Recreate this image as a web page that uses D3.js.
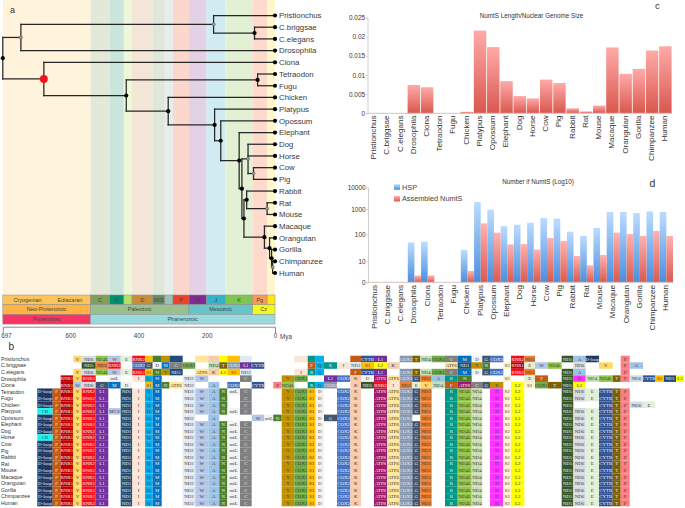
<!DOCTYPE html>
<html><head><meta charset="utf-8">
<script src="https://cdn.jsdelivr.net/npm/d3@7/dist/d3.min.js"></script>
<style>html,body{margin:0;padding:0;background:#fff}svg{display:block}text{font-family:"Liberation Sans",Arial,sans-serif}</style>
</head><body><svg id="chart" width="685" height="508"></svg>
<script>
// ---------- data ----------
const species = ["Pristionchus","C.briggsae","C.elegans","Drosophila","Ciona","Tetraodon","Fugu","Chicken","Platypus","Opossum","Elephant","Dog","Horse","Cow","Pig","Rabbit","Rat","Mouse","Macaque","Orangutan","Gorilla","Chimpanzee","Human"];
const numtLength = [0,0,0,0.0074,0.0068,0,0,0.0004,0.0216,0.0173,0.0084,0.0045,0.0039,0.0088,0.0079,0.0013,0.0005,0.0020,0.0172,0.0103,0.0116,0.0164,0.0175];
const hsp = [0,0,0,50,53,0,0,26,2100,940,212,240,288,440,415,127,87,178,760,760,695,810,760];
const assembled = [0,0,0,2.1,2.1,0,0,3.4,272,116,42,43,27,73,56,15.4,6.3,16.8,116,103,87,136,87];
const lengthTicks = [0,0.005,0.01,0.015,0.02,0.025];
const countTicks = [1,10,100,1000,10000];
const countTickLabels = ["0","10","100","1000","10000"];
const timeTicks = [697,600,400,200,0];
// tree: [node age in Mya, ...children]
const treeNested = [697,[671,[180,"Pristionchus",[60,"C.briggsae","C.elegans"]],"Drosophila"],[638,"Ciona",[436,[51,"Tetraodon","Fugu"],[313,"Chicken",[177,"Platypus",[159,"Opossum",[105,"Elephant",[97,[79,"Dog","Horse",[63,"Cow","Pig"]],[91,[83,"Rabbit",[23,"Rat","Mouse"]],[31,"Macaque",[16,"Orangutan",[10,"Gorilla",[7,"Chimpanzee","Human"]]]]]]]]]]]]];
const hollowNodes = [671,180,79,63,23,7];
const redNode = 638;
// geologic scale: [name, older bound, younger bound]
const periods = [["",697,541],["C",541,485],["O",485,443],["",443,419],["D",419,359],["MIS",359,323],["",323,299],["P",299,252],["Tr",252,201],["J",201,145],["K",145,66],["Pg",66,23],["",23,0]];
const eras = [["Neo-Proterozoic",697,541],["Paleozoic",541,252],["Mesozoic",252,66],["Cz",66,0]];
const eons = [["Proterozoic",697,541],["Phanerozoic",541,0]];
// gene order: one token per alignment column, "." = absent, "~X" = gene X, name not printed
const vert = "D-loop F RNR1 V RNR2 L1 . ND1 I Q M . . ND2 W A N mtL C . . . Y COX1 S1 D . COX2 K . ATP8 ATP6 COX3 G ND3 . R ND4L ND4 . H S2 L2 . . . ND5 ND6 E CYTB T P";
const noMtl = vert.replace("mtL ",". ");
const geneOrder = [
 ". . . V ND6 ND4L W E RNR2 ~S1 ~N ~Y ~ND1 . ~ATP6 ~K ~L2 ~S1 ~ND2 . . . . ~I ~R ~Q . . ~F CYTB L1 . COX3 T ND4 COX1 C M D G COX2 . RNR2 ND3 . . ND5 A D-loop . . P",
 ". . . . ND5 ND3 RNR2 . COX2 G D M C COX1 . ND4 T COX3 L1 CYTB . . . . F Q R I ND2 S1 L2 K . . . . ATP6 ND1 Y N . S2 RNR1 E W ND4L . ND6 . V . P A",
 ". . . V ND6 ND4L W E RNR2 S1 N Y ND1 . ATP6 K L2 S1 ND2 . . . . I R Q . . F CYTB L1 . COX3 T ND4 COX1 C M D G COX2 . RNR2 ND3 . . ND5 A . . . P",
 ". . RNR1 V RNR2 . mtL . I Q M . . ND2 W . . . C . . . Y COX1 . . L1 COX2 K D ATP8 ATP6 COX3 G ND3 A R N . . . S2 . E F . ND5 H ND4 ND4L T P ND6 CYTB S1 ND1 L2",
 ". . RNR1 W ND6 G M D . S1 M N ATP6 ND2 . A . COX2 . CYTB . P ND4L . R Q COX3 . K ND5 RNR2 I ND3 E V ND4 F ATP8 C G Y . L2 S2 COX1 T ND5 L2",
 vert, noMtl,
 noMtl.replace("ND6 E",". .") + " ND6 E",
 vert.replace("D-loop","CR").replace("L1 . ND1","L1 MCS ND1"),
 "D-loop F RNR1 V RNR2 L1 . ND1 I Q M . . ND2 . A . . . W mtL N Y COX1 S1 D G COX2 K . ATP8 ATP6 COX3 . ND3 . R ND4L ND4 . H S2 L2 . . . ND5 ND6 E CYTB T P",
 vert, vert, vert.replace("D-loop","CR"), vert, vert, vert, vert, vert, vert, vert, vert, vert, vert
];
const geneColor = {"D-loop":"#1f3864",CR:"#16f5f5",F:"#c55a11",RNR1:"#c00000",V:"#ffd966",RNR2:"#f70d1a",L1:"#7030a0",MCS:"#b4c7e7",ND1:"#1f4e79",I:"#fbe5d6",Q:"#00b0f0",M:"#0070c0",ND2:"#deebf7",W:"#b4c7e7",A:"#9dc3e6",N:"#4a7f2e",mtL:"#f2f2f2",C:"#7f7f7f",Y:"#bf9000",COX1:"#70ad47",S1:"#ffc000",D:"#f2f2f2",G:"#44546a",COX2:"#4472c4",K:"#f8cbad",ATP8:"#9e1b6a",ATP6:"#ffe699",COX3:"#8497b0",ND3:"#ed7d31",R:"#009688",ND4L:"#92c84a",ND4:"#c5e0b4",H:"#ff33ff",S2:"#fff2cc",L2:"#ffff00",ND5:"#375623",ND6:"#d6dce5",E:"#e2f0d9",CYTB:"#2f5597",T:"#7f6000",P:"#ff7c80"};

// ---------- layout ----------
const slotWidths = [15.4,8,12.6,8.4,14,12.6,12.4,11.6,12.7,7.7,9,7.8,13.2,12.6,13,11,8,12.7,11.7,12.6,9,8.4,12.6,13.4,8,8.3,13,13.3,10.7,13,13,12.7,12.6,8,11.4,13.3,12.7,14,10.6,7.7,13.3,7.7,13.3,10.7,13,13.7,11.6,12.4,13.3,13.7,8,9,13.3,12,9,12,8];
const slotEdges = [0, ...d3.cumsum(slotWidths)];
const slotX = d3.scaleLinear().domain([0, slotEdges[slotEdges.length-1]]).range([37.3, 37.3+slotEdges[slotEdges.length-1]]);
const svg = d3.select("#chart");
const FONT_SERIF = '"Liberation Serif","Times New Roman",serif';

// ---------- panel a ----------
const xT = d3.scaleLinear().domain([697,600,0]).range([2.8,70.3,275]);
const yT = d3.scalePoint().domain(species).range([15.5,273]);
const paleColors = ["#fff3dc","#e3e8d8","#c9e6dc","#eef7d8","#f3e6d6","#dfe6da","#e5eee8","#fbd7cc","#e3d1e6","#d0ecf2","#e2f1d4","#fddacb","#fff7cc"];
const stripColors = ["#fdc559","#7fa056","#009270","#b3e160","#cb8c37","#678f66","#99c2b5","#f04028","#812b92","#34b2c9","#7fc64e","#fd9a52","#ffe619"];
const eraColors = ["#feb342","#99c08d","#67c5ca","#f2f91d"];
const eonColors = ["#f73563","#9ad9dd"];
const gA = svg.append("g");
gA.selectAll("rect.bg").data(periods).join("rect").attr("class","bg")
  .attr("x",d=>xT(d[1])).attr("width",d=>xT(d[2])-xT(d[1])).attr("y",0).attr("height",295)
  .attr("fill",(d,i)=>paleColors[i]);

function strip(data, colors, y, h){
  gA.append("g").selectAll("rect").data(data).join("rect")
    .attr("x",d=>xT(d[1])).attr("width",d=>xT(d[2])-xT(d[1])).attr("y",y).attr("height",h)
    .attr("fill",(d,i)=>colors[i]).attr("stroke","#8c8c8c").attr("stroke-width",0.5);
  gA.append("g").selectAll("text").data(data).join("text")
    .attr("x",d=>(xT(d[1])+xT(d[2]))/2).attr("y",y+h/2+1.9).attr("text-anchor","middle")
    .attr("font-size",5.5).attr("fill","#444").text(d=>d[0]);
}
strip(periods, stripColors, 295, 9.7);
strip(eras, eraColors, 304.7, 9.7);
strip(eons, eonColors, 314.4, 9.7);
gA.append("g").selectAll("text").data([["Cryogenian",27.5],["Ediacaran",70]]).join("text")
  .attr("x",d=>d[1]).attr("y",301.8).attr("text-anchor","middle").attr("font-size",5.5).attr("fill","#444").text(d=>d[0]);

const axT = d3.axisBottom(xT).tickValues(timeTicks).tickSizeInner(0).tickSizeOuter(6.5).tickPadding(7).tickFormat(d=>d);
const gAx = gA.append("g").attr("transform","translate(0,326.7)").call(axT);
gAx.selectAll("path").attr("stroke","#8a8a8a").attr("fill","none");
gAx.selectAll("text").attr("font-size",6.3).attr("fill","#444").attr("font-family",'"Liberation Sans",sans-serif')
  .attr("text-anchor",d=>d===697?"start":"middle").attr("dx",d=>d===697?-2:0);
gA.append("text").attr("x",280).attr("y",339).attr("font-size",6.3).attr("fill","#444").text("Mya");

const toNode = a => typeof a === "string" ? {name:a,age:0} : {age:a[0],children:a.slice(1).map(toNode)};
const root = d3.hierarchy(toNode(treeNested));
root.eachAfter(n=>{
  n.py = n.children ? (n.children[0].py + n.children[n.children.length-1].py)/2 : yT(n.data.name);
  n.px = xT(n.data.age);
});
const lines = [];
root.each(n=>{ if(n.children){
  lines.push([n.px,n.children[0].py,n.px,n.children[n.children.length-1].py]);
  n.children.forEach(c=>lines.push([n.px,c.py,c.px,c.py]));
}});
gA.selectAll("line.tree").data(lines).join("line").attr("class","tree")
  .attr("x1",d=>d[0]).attr("y1",d=>d[1]).attr("x2",d=>d[2]).attr("y2",d=>d[3])
  .attr("stroke","#262626").attr("stroke-width",1.25).attr("stroke-linecap","square");
gA.selectAll("circle.node").data(root.descendants()).join("circle").attr("class","node")
  .attr("cx",d=>d.px).attr("cy",d=>d.py)
  .attr("r",d=>d.data.age===redNode?3.9:(hollowNodes.includes(d.data.age)?1.6:2.1))
  .attr("fill",d=>d.data.age===redNode?"#f5101a":(hollowNodes.includes(d.data.age)?"#9a9a9a":"#000"))
  .attr("stroke",d=>hollowNodes.includes(d.data.age)?"#555":"none").attr("stroke-width",0.5);
gA.selectAll("text.tip").data(species).join("text").attr("class","tip")
  .attr("x",279).attr("y",d=>yT(d)).attr("dy","0.36em").attr("font-size",7.8).attr("fill","#3a3a3a").text(d=>d);

// ---------- bars helpers ----------
const defs = svg.append("defs");
function grad(id, top, bottom){
  const g = defs.append("linearGradient").attr("id",id).attr("x1",0).attr("x2",0).attr("y1",0).attr("y2",1);
  g.append("stop").attr("offset",0).attr("stop-color",top);
  g.append("stop").attr("offset",1).attr("stop-color",bottom);
}
grad("redC","#ffaaa8","#d9574d");
grad("redD","#ffb3b0","#d95a4e");
grad("blueD","#bcdcff","#4a8ede");
function styleAxis(g){
  g.selectAll("path,line").attr("stroke","#cfcfcf");
  g.selectAll("text").attr("font-size",6.4).attr("fill","#333").attr("font-family",'"Liberation Sans",sans-serif');
}
function xLabels(band, y){
  svg.append("g").selectAll("text").data(species).join("text")
    .attr("transform",d=>`translate(${band(d)+band.bandwidth()/2-1},${y}) rotate(-90)`)
    .attr("text-anchor","end").attr("dy","0.36em").attr("font-size",8.1).attr("fill","#333").text(d=>d);
}

// ---------- panel c ----------
const xC = d3.scaleBand().domain(species).range([367.5,672]).paddingInner(0.06).paddingOuter(0.03);
const yC = d3.scaleLinear().domain([0,0.025]).range([113.3,17.6]);
svg.append("g").selectAll("rect").data(species.filter((d,i)=>numtLength[i]>0)).join("rect")
  .attr("x",d=>xC(d)).attr("width",xC.bandwidth())
  .attr("y",d=>yC(numtLength[species.indexOf(d)]))
  .attr("height",d=>yC(0)-yC(numtLength[species.indexOf(d)]))
  .attr("fill","url(#redC)");
styleAxis(svg.append("g").attr("transform","translate(367.5,0)")
  .call(d3.axisLeft(yC).tickValues(lengthTicks).tickSize(1.5).tickPadding(1).tickFormat(d=>String(d))));
svg.append("line").attr("x1",367.5).attr("x2",672).attr("y1",yC(0)).attr("y2",yC(0)).attr("stroke","#d8c0c0");
xLabels(xC,115.5);
svg.append("text").attr("x",531.5).attr("y",17.5).attr("text-anchor","middle").attr("font-size",6.3).attr("fill","#333").text("NumtS Length/Nuclear Genome Size");

// ---------- panel d ----------
const xD = d3.scaleBand().domain(species).range([368,673]);
const yD = d3.scaleLog().domain(countTicks).range([282.3,261,234.3,209,187.3]);
const halfD = d3.scaleBand().domain(["HSP","Assembled NumtS"]).range([0,xD.bandwidth()]);
[["HSP",hsp,"url(#blueD)"],["Assembled NumtS",assembled,"url(#redD)"]].forEach(([name,vals,fill])=>{
  svg.append("g").selectAll("rect").data(species.filter((d,i)=>vals[i]>0)).join("rect")
    .attr("x",d=>xD(d)+halfD(name)).attr("width",halfD.bandwidth())
    .attr("y",d=>yD(vals[species.indexOf(d)]))
    .attr("height",d=>yD(1)-yD(vals[species.indexOf(d)]))
    .attr("fill",fill);
});
styleAxis(svg.append("g").attr("transform","translate(368,0)")
  .call(d3.axisLeft(yD).tickValues(countTicks).tickSize(1.5).tickPadding(1).tickFormat((d,i)=>countTickLabels[i])));
svg.append("line").attr("x1",368).attr("x2",673).attr("y1",yD(1)).attr("y2",yD(1)).attr("stroke","#d8c0c0");
xLabels(xD,285);
svg.append("text").attr("x",538).attr("y",184).attr("text-anchor","middle").attr("font-size",6.3).attr("fill","#333").text("Number if NumtS (Log10)");
const legend = svg.append("g");
[["HSP","url(#blueD)"],["Assembled NumtS","url(#redD)"]].forEach(([t,f],i)=>{
  const y = 187 + i*11.7;
  legend.append("rect").attr("x",394).attr("y",y-2.8).attr("width",6).attr("height",5.6).attr("fill",f);
  legend.append("text").attr("x",402).attr("y",y).attr("dy","0.36em").attr("font-size",7.3).attr("fill","#444").text(t);
});

// ---------- panel b ----------
const yG = d3.scaleBand().domain(species).range([355.72,506.28]);
const textOn = c => { const h = d3.hcl(c); return h.l < 62 ? "#f2f2f2" : "#3c3c3c"; };
const cells = [];
geneOrder.forEach((row,r)=>{
  row.trim().split(/\s+/).forEach((tok,s)=>{
    if(tok==="." ) return;
    const hidden = tok[0]==="~";
    const gene = hidden ? tok.slice(1) : tok;
    cells.push({sp:species[r],slot:s,gene,hidden});
  });
});
const gB = svg.append("g");
gB.selectAll("rect").data(cells).join("rect")
  .attr("x",d=>slotX(slotEdges[d.slot])).attr("width",d=>slotWidths[d.slot])
  .attr("y",d=>yG(d.sp)).attr("height",yG.bandwidth())
  .attr("fill",d=>geneColor[d.gene]||"#ccc");
gB.selectAll("text.gene").data(cells.filter(c=>!c.hidden)).join("text").attr("class","gene")
  .attr("x",d=>slotX(slotEdges[d.slot])+slotWidths[d.slot]/2).attr("y",d=>yG(d.sp)+yG.bandwidth()/2)
  .attr("dy","0.36em").attr("text-anchor","middle").attr("font-size",4.9)
  .style("font-family",FONT_SERIF).attr("fill",d=>textOn(geneColor[d.gene])).text(d=>d.gene);
gB.selectAll("text.sp").data(species).join("text").attr("class","sp")
  .attr("x",1).attr("y",d=>yG(d)+yG.bandwidth()/2).attr("dy","0.36em").attr("font-size",5.2).attr("fill","#333").text(d=>d);

// ---------- panel letters ----------
[["a",10,13,9],["b",8.5,350,10],["c",655,9,9.5],["d",649.5,187,10.5]].forEach(([t,x,y,s])=>{
  svg.append("text").attr("x",x).attr("y",y).attr("font-size",s).attr("fill","#333").text(t);
});
</script></body></html>
